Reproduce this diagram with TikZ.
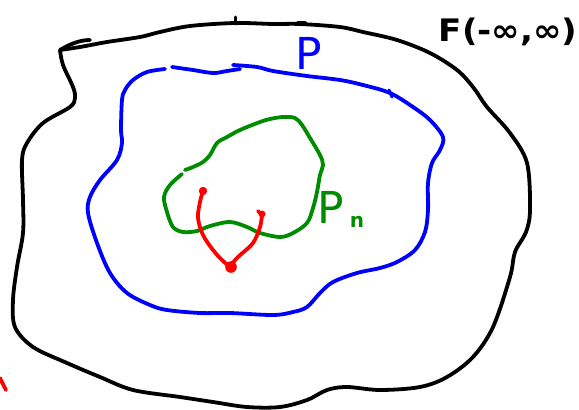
\documentclass[tikz,border=0pt]{standalone}
\usepackage{fontspec}
\setmainfont{DejaVu Sans}
\definecolor{penblue}{RGB}{0,0,255}
\definecolor{pengreen}{RGB}{0,140,0}
\definecolor{penred}{RGB}{255,0,0}
\begin{document}
\begin{tikzpicture}[x=1pt,y=-1pt,
  pen/.style={line width=3.8pt,line cap=round,line join=round},
  lbl/.style={inner sep=0pt,anchor=center}]
\useasboundingbox (0,0) rectangle (579,410);
% outer black region
\draw[pen,black] plot[smooth,tension=0.55] coordinates {
 (60,50) (80,47) (107,42) (140,37) (160,32) (190,26) (235,23) (273,24) (300,24)
 (340,27) (363,32) (397,40) (430,53) (457,70) (473,87) (487,107) (510,133)
 (527,163) (530,210) (526,232) (515,252) (510,277) (493,327) (473,357) (447,377)
 (420,387) (380,390) (347,387) (327,390) (307,400) (280,407) (247,407) (213,402)
 (180,397) (133,390) (100,377) (67,363) (33,347) (15,327) (13,300) (17,267)
 (23,233) (23,200) (22,160) (27,143) (43,123) (70,107) (75,98) (73,87) (63,65) (60,50)};
\draw[pen,black] (60,50) .. controls (70,44) and (80,40) .. (90,40);
\draw[pen,black,line width=3pt] (235,17) -- (235,24);
\draw[pen,black] (298,23) -- (305,23);
% blue region P
\draw[pen,penblue] plot[smooth,tension=0.55] coordinates {
 (165,69) (147,72) (133,80) (125,90) (122,100) (121,130) (122,143) (117,160)
 (100,180) (90,197) (88,213) (97,243) (110,273) (127,293) (150,305) (167,310)
 (200,313) (230,313) (273,315) (293,312) (307,307) (320,293) (333,282) (357,273)
 (380,268) (397,262) (415,250) (425,232) (428,210) (428,183) (432,163) (440,150)
 (443,137) (430,120) (413,107) (390,93) (363,85) (340,80) (307,76) (273,71)
 (257,67) (233,65)};
\draw[pen,penblue] plot[smooth,tension=0.55] coordinates {
 (172,67) (193,70) (213,73) (227,71) (240,69)};
\draw[pen,penblue,line width=3pt] (389,90) -- (392,97);
% green region P_n
\draw[pen,pengreen] plot[smooth,tension=0.55] coordinates {
 (185,170) (193,167) (203,162) (210,155) (217,143) (227,137) (240,130) (260,122)
 (270,119) (283,117) (295,118) (302,125) (310,138) (320,155) (323,165) (320,175)
 (317,192) (313,208) (307,223) (293,233) (280,237) (260,233) (247,227) (230,222)
 (210,226) (197,231) (183,232) (173,227) (167,212) (164,197) (170,185) (182,174)};
% red paths
\draw[pen,penred] plot[smooth,tension=0.55] coordinates {
 (203,191) (200,202) (198,218) (203,235) (213,250) (222,260) (230,267)};
\draw[pen,penred] plot[smooth,tension=0.55] coordinates {
 (231,265) (238,257) (253,243) (260,227) (262,215)};
\draw[pen,penred] (258,211) -- (261,214);
\fill[penred] (203,191) circle (4.2);
\fill[penred] (231,267) circle (5.8);
\fill[penred] (262,214) circle (3.5);
\draw[pen,penred] (0,378) -- (6,390);
% labels
\node[lbl] (lF) at (508,32) {\fontsize{31}{31}\selectfont\bfseries\scalebox{1.1}[1]{F(-∞,∞)}};
\node[lbl,text=penblue] (lP) at (309,53) {\fontsize{44}{44}\selectfont P};
\node[lbl,text=pengreen] (lPn) at (331,207) {\fontsize{44}{44}\selectfont P};
\node[lbl,text=pengreen] (ln) at (357,222) {\fontsize{20}{20}\selectfont\bfseries n};
\end{tikzpicture}
\end{document}
